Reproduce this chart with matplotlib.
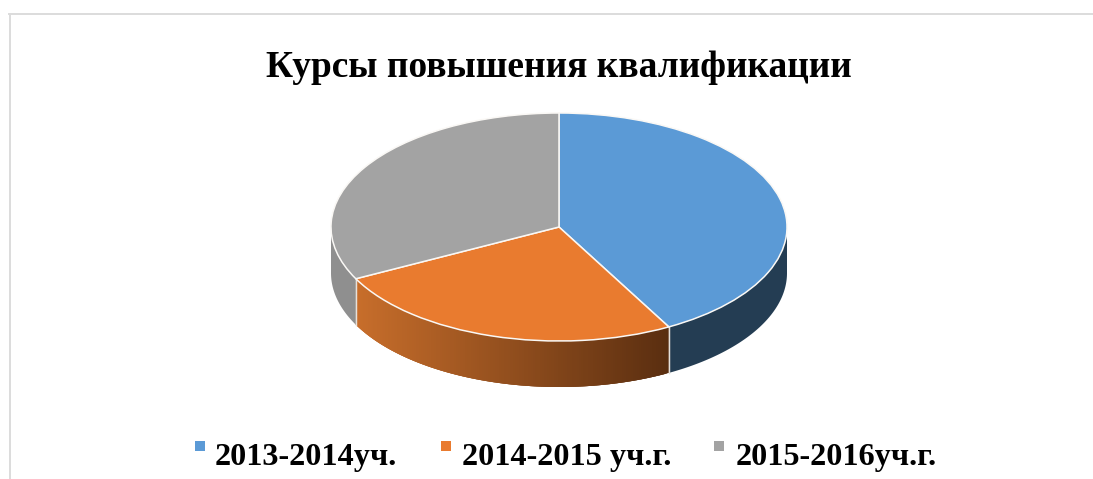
import numpy as np
import matplotlib
matplotlib.use("Agg")
import matplotlib.pyplot as plt
from matplotlib.patches import Rectangle
from matplotlib.colors import to_rgb

W, H = 1093, 479
TITLE = "Курсы повышения квалификации"
labels = ["2013-2014уч.", "2014-2015 уч.г.", "2015-2016уч.г."]
values = [42.0, 25.5, 32.5]
top_colors = ["#5B9AD6", "#E97B2F", "#A3A3A3"]
side_left = ["#243D53", "#C86E2B", "#8F8F8F"]
side_right = ["#243D53", "#5A2E10", "#8F8F8F"]
legend_marker_x = [195, 441, 714]
legend_text_x = [215, 462, 736]

plt.rcParams["font.family"] = ["Liberation Serif", "DejaVu Serif"]
plt.rcParams["font.weight"] = "bold"

fig = plt.figure(figsize=(W / 100, H / 100), dpi=100, facecolor="white")
ax = fig.add_axes([0, 0, 1, 1])

# chart geometry in pixels
cx, cy, rx, ry, depth = 559, 227, 228, 114, 46

wedges, _ = ax.pie(values, colors=top_colors, startangle=90, counterclock=False,
                   radius=1, center=(0, 0),
                   wedgeprops=dict(edgecolor="#FAF8F5", linewidth=1.1, zorder=5))
ax.set_aspect("auto")
ax.set_xlim((0 - cx) / rx, (W - cx) / rx)
ax.set_ylim((cy - H) / ry, cy / ry)
ax.set_frame_on(False)
ax.set_xticks([])
ax.set_yticks([])

d = depth / ry
edges = np.concatenate([[0], np.cumsum(values)]) / np.sum(values) * 2 * np.pi

for i in range(len(values)):
    # clockwise angle from the top; only the front half of the rim is visible
    a0 = max(edges[i], np.pi / 2)
    a1 = min(edges[i + 1], 3 * np.pi / 2)
    if a1 <= a0:
        continue
    t = np.linspace(a0, a1, 160)
    x, y = np.sin(t), np.cos(t)
    c0, c1 = np.array(to_rgb(side_left[i])), np.array(to_rgb(side_right[i]))
    xl, xr = x.min(), x.max()
    if side_left[i] == side_right[i]:
        ax.fill(np.r_[x, x[::-1]], np.r_[y, y[::-1] - d],
                facecolor=c0, edgecolor="none", zorder=2)
    else:
        for j in range(len(t) - 1):
            # each strip overlaps the following ones so no seams show
            k = min(j + 3, len(t) - 1)
            f = (0.5 * (x[j] + x[j + 1]) - xl) / (xr - xl)
            col = c0 + (c1 - c0) * f
            xs, ys = x[j:k + 1], y[j:k + 1]
            ax.fill(np.r_[xs, xs[::-1]], np.r_[ys, ys[::-1] - d],
                    facecolor=col, edgecolor="none", zorder=2)
    # light vertical seam at the slice boundaries
    for a in (a0, a1):
        if np.pi / 2 < a < 3 * np.pi / 2:
            ax.plot([np.sin(a)] * 2, [np.cos(a), np.cos(a) - d],
                    color="#E6E0DA", linewidth=0.9, zorder=3)

# outer frame of the chart area (open at right and bottom)
fig.add_artist(plt.Line2D([9.5 / W, 9.5 / W], [0, 1 - 14 / H], color="#DCDCDC", lw=1.4))
fig.add_artist(plt.Line2D([9 / W, 1], [1 - 14 / H, 1 - 14 / H], color="#DCDCDC", lw=1.4))

fig.text(559 / W, 1 - 67.5 / H, TITLE, ha="center", va="center",
         fontsize=26.9, fontweight="bold", color="black")

for lab, mx, tx, c in zip(labels, legend_marker_x, legend_text_x, top_colors):
    fig.add_artist(Rectangle((mx / W, 1 - 451 / H), 10 / W, 10 / H,
                             transform=fig.transFigure, facecolor=c, edgecolor="none"))
    fig.text(tx / W, 1 - 465 / H, lab, ha="left", va="baseline",
             fontsize=23.2, fontweight="bold", color="black")

fig.savefig("out.png", dpi=100, facecolor="white")
